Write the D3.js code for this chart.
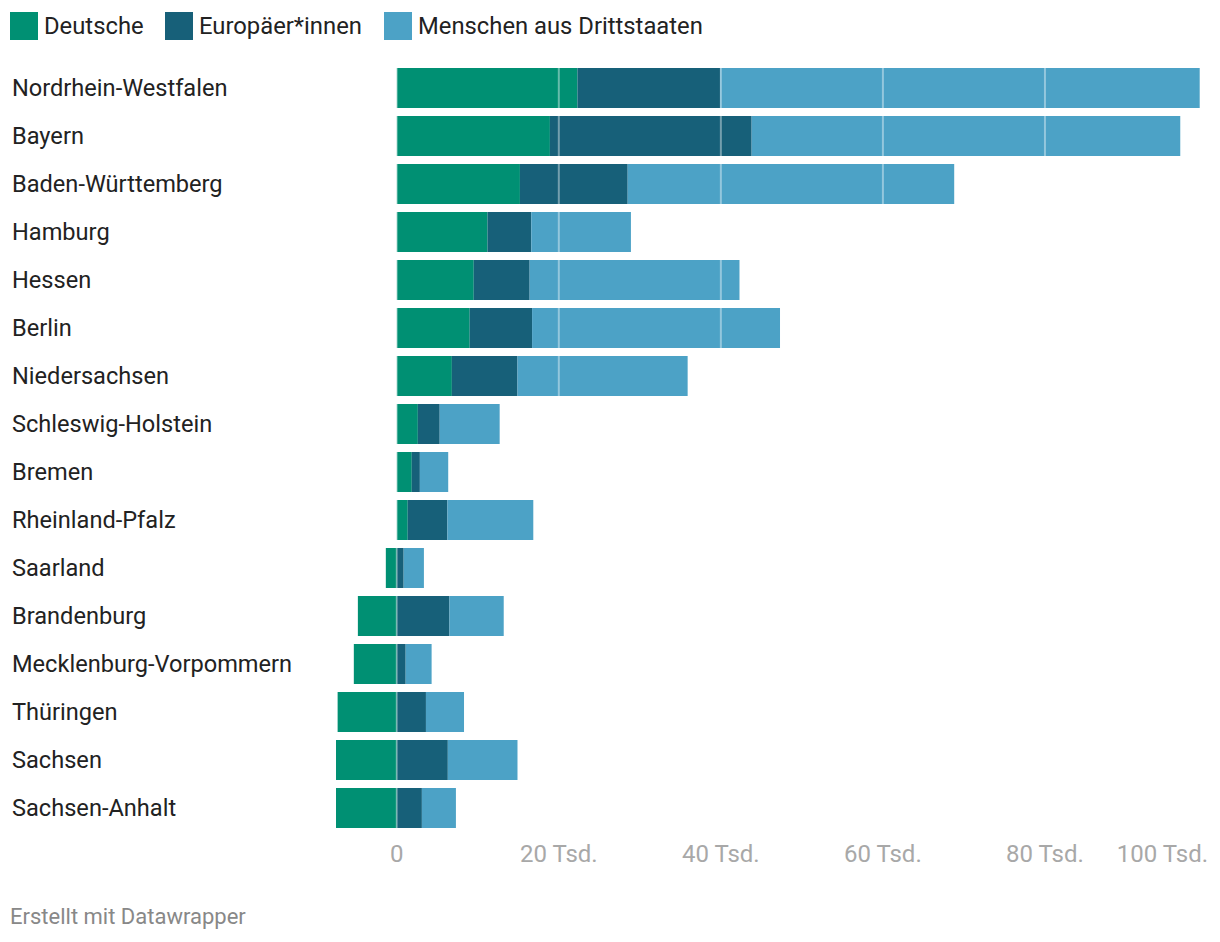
<!DOCTYPE html>
<html><head><meta charset="utf-8">
<script src="https://cdn.jsdelivr.net/npm/d3@7"></script>
<style>
body{margin:0;background:#fff;font-family:Roboto,"Noto Sans",sans-serif;}
svg{display:block;}
</style></head>
<body>
<svg id="c" width="1220" height="942"></svg>
<script>
const states = ["Nordrhein-Westfalen","Bayern","Baden-Württemberg","Hamburg","Hessen","Berlin","Niedersachsen","Schleswig-Holstein","Bremen","Rheinland-Pfalz","Saarland","Brandenburg","Mecklenburg-Vorpommern","Thüringen","Sachsen","Sachsen-Anhalt"];
const seriesNames = ["Deutsche","Europäer*innen","Menschen aus Drittstaaten"];
const deutsche = [22.3,18.9,15.2,11.2,9.5,9.0,6.8,2.6,1.85,1.35,-1.35,-4.8,-5.3,-7.3,-7.5,-7.5];
const europaer = [17.6,24.9,13.3,5.4,6.9,7.7,8.1,2.7,1.0,4.9,0.85,6.5,1.1,3.6,6.3,3.1];
const drittstaaten = [59.2,52.9,40.3,12.3,25.9,30.6,21.0,7.4,3.5,10.6,2.5,6.7,3.2,4.7,8.6,4.2];
const tickValues = [0,20,40,60,80,100];
const tickLabels = ["0","20 Tsd.","40 Tsd.","60 Tsd.","80 Tsd.","100 Tsd."];
const colors = ["#009073","#176079","#4ca2c6"];

const svg = d3.select("#c");
const x = d3.scaleLinear().domain([-7.5,100]).range([336,1207]);
const y = d3.scaleBand().domain(states).range([64,832]).paddingInner(1/6).paddingOuter(1/12);

// legend
const legend = svg.append("g");
const legendX = [10,165,384];
seriesNames.forEach((n,i)=>{
  legend.append("rect").attr("x",legendX[i]).attr("y",12).attr("width",28).attr("height",28).attr("fill",colors[i]);
  legend.append("text").attr("x",legendX[i]+34).attr("y",26).attr("dy","0.35em")
    .attr("font-size",23.8).attr("fill","#222").text(n);
});

// bars
const rows = states.map((s,i)=>({s, d:deutsche[i], e:europaer[i], t:drittstaaten[i]}));
const g = svg.append("g");
rows.forEach(r=>{
  const segs = [];
  if (r.d >= 0) {
    segs.push({x0:0,x1:r.d,c:0});
    segs.push({x0:r.d,x1:r.d+r.e,c:1});
    segs.push({x0:r.d+r.e,x1:r.d+r.e+r.t,c:2});
  } else {
    segs.push({x0:r.d,x1:0,c:0});
    segs.push({x0:0,x1:r.e,c:1});
    segs.push({x0:r.e,x1:r.e+r.t,c:2});
  }
  g.selectAll(null).data(segs).enter().append("rect")
    .attr("x",d=>x(d.x0)).attr("width",d=>x(d.x1)-x(d.x0))
    .attr("y",y(r.s)).attr("height",y.bandwidth())
    .attr("fill",d=>colors[d.c]);
});

// grid lines over bars
svg.append("g").selectAll("line").data(tickValues.slice(0,5)).enter().append("line")
  .attr("x1",d=>x(d)).attr("x2",d=>x(d))
  .attr("y1",y.range()[0]).attr("y2",y.range()[1])
  .attr("stroke","#fff").attr("stroke-opacity",d=>d===0?0.35:0.4).attr("stroke-width",2);

// row labels
svg.append("g").selectAll("text").data(states).enter().append("text")
  .attr("x",12).attr("y",d=>y(d)+y.bandwidth()/2).attr("dy","0.35em")
  .attr("font-size",23.6).attr("fill","#222").text(d=>d);

// axis labels
svg.append("g").selectAll("text").data(tickValues).enter().append("text")
  .attr("x",(d,i)=> i===tickValues.length-1 ? x(d)+1 : x(d))
  .attr("y",854).attr("dy","0.35em")
  .attr("text-anchor",(d,i)=> i===tickValues.length-1 ? "end":"middle")
  .attr("font-size",24).attr("fill","#a8a8a8").text((d,i)=>tickLabels[i]);

// footer
svg.append("text").attr("x",10).attr("y",916).attr("dy","0.35em")
  .attr("font-size",22).attr("fill","#888").text("Erstellt mit Datawrapper");
</script>
</body></html>
